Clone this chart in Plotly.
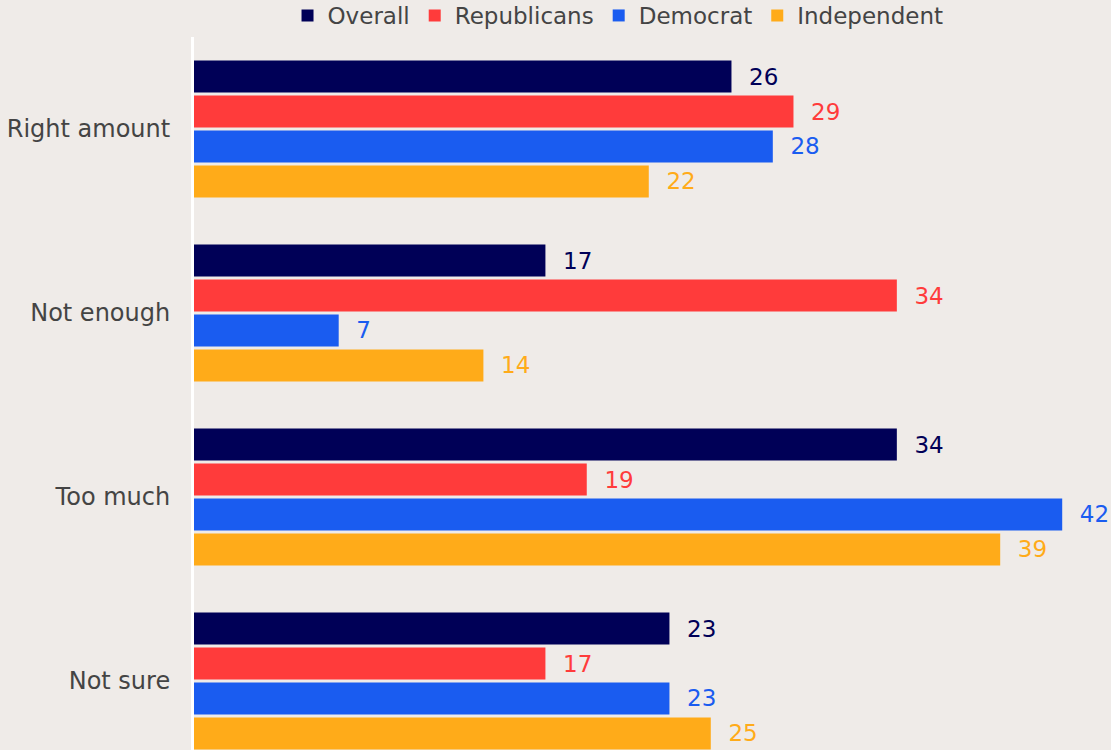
import plotly.graph_objects as go

categories = ["Right amount", "Not enough", "Too much", "Not sure"]
series_names = ["Overall", "Republicans", "Democrat", "Independent"]
overall = [26, 17, 34, 23]
republicans = [29, 34, 19, 17]
democrat = [28, 7, 42, 23]
independent = [22, 14, 39, 25]
colors = ["#000057", "#ff3b3b", "#1a5cf0", "#ffab19"]

values = [overall, republicans, democrat, independent]

FONT = "DejaVu Sans, sans-serif"

fig = go.Figure()
for name, vals, col in zip(series_names, values, colors):
    fig.add_trace(go.Bar(
        y=categories, x=vals, name=name, orientation="h",
        marker=dict(color=col, line=dict(width=0)),
        text=[f"  {v}" for v in vals], textposition="outside",
        textfont=dict(color=col, size=23, family=FONT),
        cliponaxis=False,
    ))

fig.update_layout(
    width=1111, height=750,
    barmode="group", bargap=0.24, bargroupgap=0.086,
    paper_bgcolor="#efebe8", plot_bgcolor="#efebe8",
    font=dict(family=FONT, size=24, color="#444444"),
    margin=dict(l=194, r=0, t=37, b=0, autoexpand=False),
    showlegend=True,
    legend=dict(orientation="h", x=0.4624, xanchor="center",
                yref="paper", y=1.0, yanchor="bottom",
                font=dict(size=23, color="#444444", family=FONT), traceorder="normal",
                bgcolor="rgba(0,0,0,0)"),
    uniformtext=dict(minsize=22, mode="show"),
)
fig.update_xaxes(range=[0, 44.36], showgrid=False, zeroline=False, showticklabels=False, showline=False)
fig.update_yaxes(range=[3.375, -0.5], showgrid=False, zeroline=False, showline=True,
                 linecolor="white", linewidth=3, ticks="", ticklabelstandoff=16,
                 tickfont=dict(size=24, color="#444444", family=FONT))

fig.write_html("out.html", config={"displayModeBar": False},
               post_script="document.body.style.margin='0';document.body.style.overflow='hidden';")
